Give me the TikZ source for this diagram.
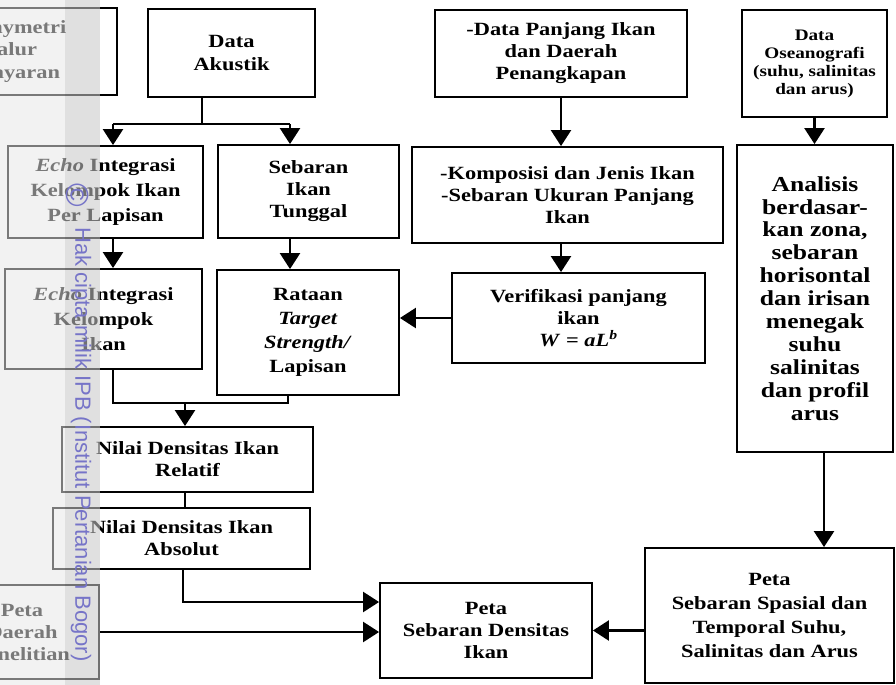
\documentclass[tikz,border=0pt]{standalone}
\usepackage{fontspec}
\setmainfont[FakeStretch=1.2]{Liberation Serif}
\newfontfamily\tandaair{Liberation Sans}
\usepackage{tikz}
\usetikzlibrary{arrows.meta}
\definecolor{ungu}{RGB}{118,116,200}
\newcommand{\huruf}[2]{\fontsize{#1}{#2}\selectfont\bfseries}
\tikzset{
        kotak/.style 2 args={draw, line width=1.4pt, align=center, inner sep=0pt,
                minimum width=#1*0.75pt, minimum height=#2*0.75pt,
                font=\huruf{14}{16.5}},
        garis/.style={line width=1.8pt},
        panah/.style={line width=1.8pt, -{Triangle[width=15pt,length=12pt]}},
}

\begin{document}
\begin{tikzpicture}[x=0.75pt, y=-0.75pt]
        \useasboundingbox (0,0) rectangle (896,685);
        \clip (0,0) rectangle (896,685);
        \node[kotak={211}{87}, font=\huruf{14}{17}] (bathy) at (11.5,51.5) {Bathymetri\\Jalur\\Pelayaran};
        \node[kotak={167}{88}, font=\huruf{14}{17}] (akustik) at (231.5,53) {Data\\Akustik};
        \node[kotak={252}{87}] (panjang) at (561,53.5) {-Data Panjang Ikan\\dan Daerah\\Penangkapan};
        \node[kotak={145}{107}, font=\huruf{12}{13.5}] (oseano) at (814.5,63.5) {Data\\Oseanografi\\(suhu, salinitas\\dan arus)};
        \node[kotak={195}{92}, font=\huruf{14}{18.5}] (echoA) at (105.5,192) {\textit{Echo} Integrasi\\Kelompok Ikan\\Per Lapisan};
        \node[kotak={181}{93}] (sebaran) at (308.5,191.5) {Sebaran\\Ikan\\Tunggal};
        \node[kotak={311}{96}] (komposisi) at (567.5,195) {-Komposisi dan Jenis Ikan\\-Sebaran Ukuran Panjang\\Ikan};
        \node[kotak={156}{307}, font=\huruf{16}{17.2}] (analisis) at (815,298.5) {Analisis\\berdasar-\\kan zona,\\sebaran\\horisontal\\dan irisan\\menegak\\suhu\\salinitas\\dan profil\\arus};
        \node[kotak={197}{100}, font=\huruf{14}{18.5}] (echoB) at (103.5,319) {\textit{Echo} Integrasi\\Kelompok\\Ikan};
        \node[kotak={182}{125}, font=\huruf{14}{18}] (rataan) at (308,332.5) {Rataan\\\textit{Target}\\\textit{Strength/}\\Lapisan};
        \node[kotak={253}{90}] (verif) at (578.5,318) {Verifikasi panjang\\ikan\\\textit{W} = \textit{aL}\textsuperscript{\textit{b}}};
        \node[kotak={251}{65}] (relatif) at (187.5,459.5) {Nilai Densitas Ikan\\Relatif};
        \node[kotak={257}{61}] (absolut) at (181.5,538.5) {Nilai Densitas Ikan\\Absolut};
        \node[kotak={154}{94}] (daerah) at (22,632) {Peta\\Daerah\\Penelitian};
        \node[kotak={212}{95}] (densitas) at (486,630.5) {Peta\\Sebaran Densitas\\Ikan};
        \node[kotak={249}{135}, font=\huruf{14}{18}] (spasial) at (769.5,615.5) {Peta\\Sebaran Spasial dan\\Temporal Suhu,\\Salinitas dan Arus};

        \coordinate (cabang) at (202,124);
        \coordinate (cabangA) at (113,124);
        \coordinate (cabangB) at (290,124);
        \coordinate (gabung) at (185,403);
        \coordinate (gabungB) at (288,403);
        \coordinate (belok) at (183,602);
        \coordinate (jalur) at (824,500);

        \draw[garis] (akustik.south -| cabang) -- (cabang);
        \draw[garis] (cabangA) -- (cabangB);
        \draw[panah] (cabangA) -- (cabangA |- echoA.north);
        \draw[panah] (cabangB) -- (cabangB |- sebaran.north);
        \draw[panah] (panjang.south) -- (panjang.south |- komposisi.north);
        \draw[panah] (oseano.south) -- (oseano.south |- analisis.north);
        \draw[panah] (cabangA |- echoA.south) -- (cabangA |- echoB.north);
        \draw[panah] (cabangB |- sebaran.south) -- (cabangB |- rataan.north);
        \draw[panah] (panjang.south |- komposisi.south) -- (panjang.south |- verif.north);
        \draw[panah] (verif.west) -- (rataan.east |- verif.west);
        \draw[garis] (cabangA |- echoB.south) |- (gabungB) -- (gabungB |- rataan.south);
        \draw[panah] (gabung) -- (gabung |- relatif.north);
        \draw[garis] (gabung |- relatif.south) -- (gabung |- absolut.north);
        \draw[panah] (belok |- absolut.south) -- (belok) -- (belok -| densitas.west);
        \draw[panah] (daerah.east) -- (daerah.east -| densitas.west);
        \draw[panah] (jalur |- analisis.south) -- (jalur |- spasial.north);
        \draw[panah] (spasial.west |- densitas.east) -- (densitas.east);

        \fill[white, opacity=0.5] (0,0) rectangle (100,685);
        \fill[black, opacity=0.05] (0,0) rectangle (65,685);
        \fill[black, opacity=0.12] (65,0) rectangle (100,685);
        \node[text=ungu, font=\tandaair\fontsize{24}{24}\selectfont, rotate=-90] (tanda) at (78,195) {©};
        \node[text=ungu, font=\tandaair\fontsize{16.5}{18}\selectfont, rotate=-90] (cipta) at (81,444.5) {Hak cipta milik IPB (Institut Pertanian Bogor)};
\end{tikzpicture}
\end{document}
